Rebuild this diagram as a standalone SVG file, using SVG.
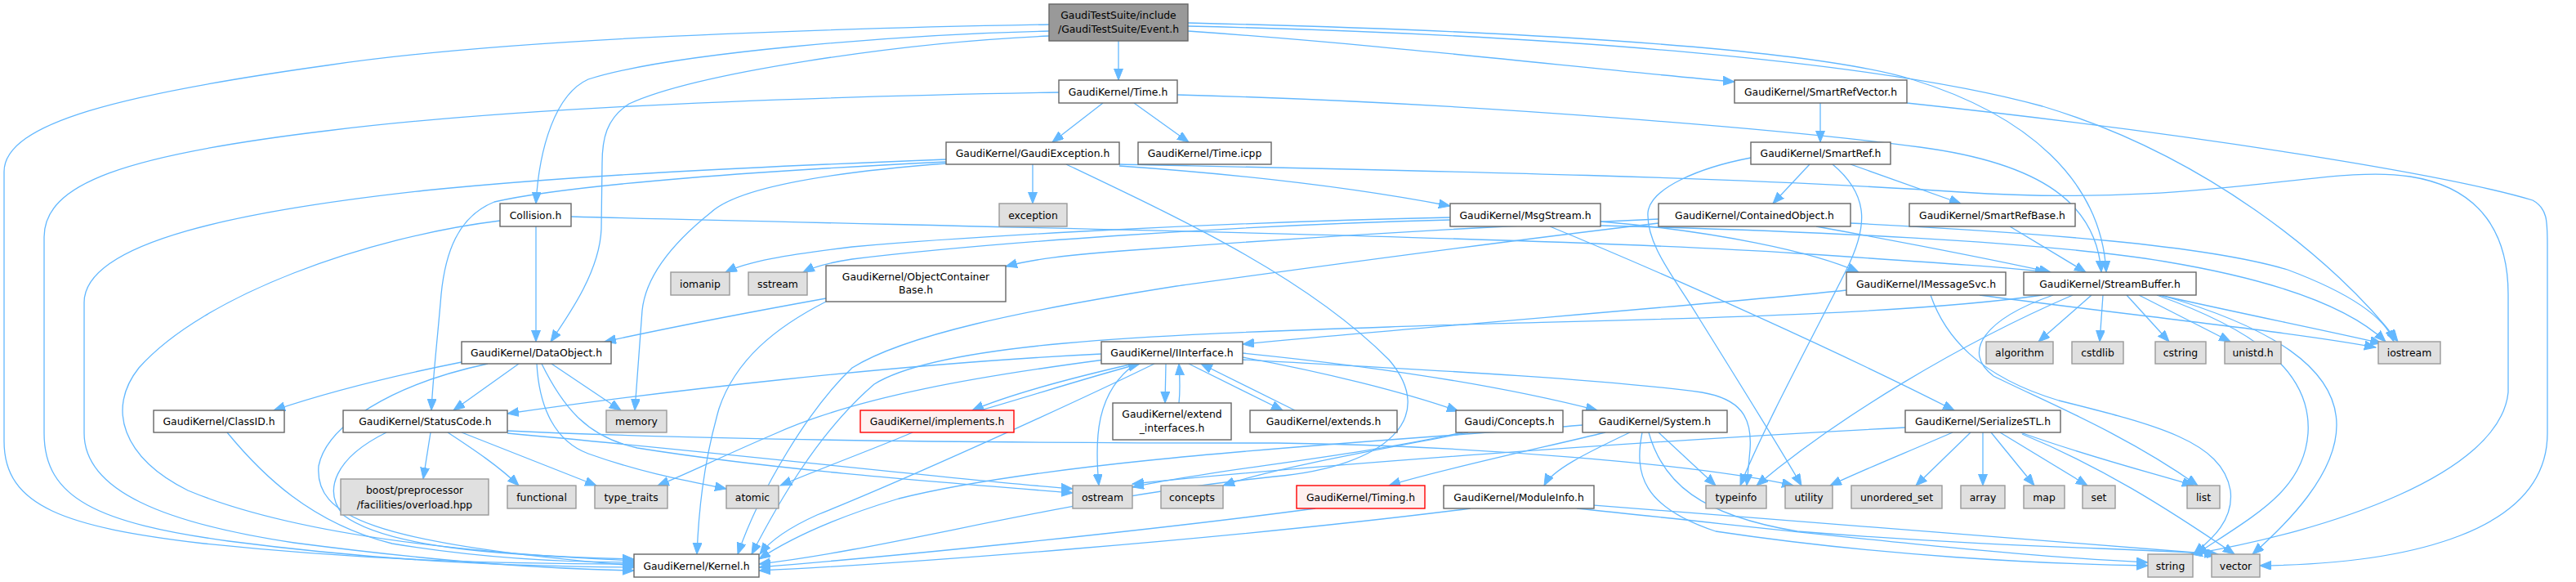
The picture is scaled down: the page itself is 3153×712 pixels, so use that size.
<svg xmlns="http://www.w3.org/2000/svg" width="3153" height="712" viewBox="0 0 3153 712">
<style>
.n rect{fill:#ffffff;stroke:#666666;stroke-width:1.4}
.g rect{fill:#E0E0E0;stroke:#999999;stroke-width:1.4}
.r rect{fill:#FFF0F0;stroke:#FF0000;stroke-width:1.4}
.root rect{fill:#999999;stroke:#666666;stroke-width:1.4}
text{font-family:"DejaVu Sans","Liberation Sans",sans-serif;font-size:12.4px;fill:#000;text-anchor:middle}
#edges path{fill:none;stroke:#63B8FF;stroke-width:1.3;marker-end:url(#a)}
</style>
<defs>
<marker id="a" markerUnits="userSpaceOnUse" markerWidth="15" markerHeight="12" refX="14" refY="5.5" orient="auto"><path d="M0,0 L14,5.5 L0,11 z" fill="#63B8FF" stroke="#63B8FF" stroke-width="1"/></marker>
</defs>
<rect x="0" y="0" width="3153" height="712" fill="#ffffff"/>
<g id="edges">
<path d="M1369,50 L1369,98"/>
<path d="M1284,30 C950,36 600,50 400,80 C150,115 5,150 5,210 L5,540 C5,620 80,645 250,665 C450,686 620,690 776,690"/>
<path d="M1284,38 C1100,42 820,65 720,97 C680,115 660,180 656,249"/>
<path d="M1284,44 C1100,52 850,90 770,127 C742,145 737,170 737,200 L736,280 C734,330 700,380 674,418"/>
<path d="M1454,38 C1700,55 1950,85 2123,100"/>
<path d="M1454,28 C1800,36 2200,55 2340,97 C2480,140 2572,220 2578,333"/>
<path d="M1454,32 C1900,42 2300,75 2500,130 C2700,190 2860,320 2935,418"/>
<path d="M1350,126 L1288,174"/>
<path d="M1388,126 L1455,174"/>
<path d="M1296,113 C900,120 600,135 400,160 C150,190 54,225 54,290 L54,530 C54,610 120,640 280,662 C480,688 640,693 776,694"/>
<path d="M1441,116 C1800,125 2200,160 2350,180 C2500,200 2566,250 2572,333"/>
<path d="M1264,201 L1264,249"/>
<path d="M1370,203 C1500,212 1650,228 1775,252"/>
<path d="M1158,195 C900,205 700,215 520,233 C300,257 103,295 103,370 L103,530 C103,600 200,640 360,664 C560,690 680,696 776,698"/>
<path d="M1158,198 C950,208 700,225 605,247 C560,265 545,310 540,360 C535,420 530,460 528,502"/>
<path d="M1158,200 C1000,212 900,232 870,260 C820,300 790,340 786,380 L777,502"/>
<path d="M1370,201 C1700,208 2100,215 2400,235 C2700,255 2850,200 2950,216 C3040,230 3070,290 3070,360 L3070,480 C3060,580 2850,650 2682,678"/>
<path d="M1305,201 C1450,270 1600,340 1700,440 C1760,510 1700,570 1560,583 C1300,610 1100,670 929,690"/>
<path d="M656,277 L656,418"/>
<path d="M612,270 C450,290 250,360 170,450 C130,500 150,560 230,600 C350,650 550,676 776,686"/>
<path d="M699,265 C1200,278 1900,290 2200,310 C2380,322 2470,328 2505,333"/>
<path d="M1775,266 C1500,272 1200,288 1043,302 C960,312 915,320 888,333"/>
<path d="M1775,269 C1500,276 1200,298 1043,317 C1010,322 995,327 983,333"/>
<path d="M1959,271 C2100,283 2220,308 2275,333"/>
<path d="M1897,277 C2050,340 2250,430 2392,502"/>
<path d="M1959,276 C2200,282 2500,295 2650,320 C2800,345 2880,380 2920,418"/>
<path d="M2030,268 C1800,278 1563,293 1400,305 C1300,312 1260,318 1231,326"/>
<path d="M2223,277 C2350,300 2450,320 2510,333"/>
<path d="M2030,273 C1800,300 1563,333 1440,350 C1250,380 1107,410 1043,450 C990,500 930,600 903,678"/>
<path d="M2265,273 C2500,285 2700,300 2800,330 C2880,360 2920,390 2930,418"/>
<path d="M1011,365 C900,385 800,405 740,418"/>
<path d="M1011,369 C950,400 900,440 880,500 C860,570 855,630 853,678"/>
<path d="M2228,126 L2228,174"/>
<path d="M2334,126 C2700,165 3000,215 3100,245 C3118,255 3118,270 3118,300 L3118,530 C3118,650 2950,690 2766,692"/>
<path d="M2215,201 L2170,249"/>
<path d="M2265,201 L2400,249"/>
<path d="M2243,201 C2290,240 2285,280 2260,330 C2220,410 2160,520 2130,594"/>
<path d="M2143,193 C2080,205 2020,230 2017,260 C2015,300 2050,340 2080,390 C2130,470 2180,550 2205,594"/>
<path d="M2460,277 L2553,333"/>
<path d="M2260,355 C2100,372 1800,395 1521,421"/>
<path d="M2423,361 C2600,385 2800,405 2908,425"/>
<path d="M2363,361 C2380,410 2420,460 2520,490 C2640,520 2720,540 2730,600 C2735,640 2700,665 2685,678"/>
<path d="M2560,361 L2495,418"/>
<path d="M2574,361 L2570,418"/>
<path d="M2603,361 L2655,418"/>
<path d="M2618,361 L2730,418"/>
<path d="M2643,361 C2750,385 2850,405 2915,420"/>
<path d="M2645,361 C2780,400 2860,450 2860,520 C2860,580 2800,640 2757,678"/>
<path d="M2640,361 C2750,400 2830,450 2825,530 C2820,600 2760,630 2688,678"/>
<path d="M2513,361 C2430,390 2400,430 2440,460 C2500,490 2600,530 2690,594"/>
<path d="M2537,361 C2400,420 2250,510 2150,594"/>
<path d="M2500,361 C2300,390 1900,392 1700,400 C1400,410 1150,420 1070,470 C1000,530 950,620 920,678"/>
<path d="M565,443 C480,460 400,480 335,502"/>
<path d="M635,445 L555,502"/>
<path d="M675,445 L760,502"/>
<path d="M597,445 C480,470 400,520 390,570 C385,630 450,665 776,692"/>
<path d="M657,445 C660,500 680,540 720,555 C790,580 850,590 889,598"/>
<path d="M663,445 C690,500 720,535 780,548 C950,575 1150,590 1313,603"/>
<path d="M1348,433 C1100,445 800,480 621,506"/>
<path d="M1352,440 C1200,460 1050,485 950,530 C880,560 840,580 805,594"/>
<path d="M1390,445 C1340,480 1340,540 1345,594"/>
<path d="M1413,445 C1300,500 1100,590 1000,630 C960,648 940,665 930,678"/>
<path d="M1387,445 C1300,465 1230,485 1190,502"/>
<path d="M1200,502 C1260,485 1330,462 1395,445"/>
<path d="M1427,445 L1426,493"/>
<path d="M1443,493 C1445,475 1444,460 1443,445"/>
<path d="M1455,445 L1570,502"/>
<path d="M1585,502 L1470,445"/>
<path d="M1521,437 C1620,455 1720,480 1785,503"/>
<path d="M1521,432 C1700,450 1850,475 1955,502"/>
<path d="M1521,440 C1700,450 1950,462 2083,480 C2130,488 2145,510 2142,550 L2138,594"/>
<path d="M1117,529 C1080,545 1000,575 955,594"/>
<path d="M1797,529 C1700,548 1560,572 1497,594"/>
<path d="M1790,529 C1650,560 1480,575 1386,596"/>
<path d="M1965,529 C1900,545 1760,575 1700,594"/>
<path d="M1995,529 C1940,555 1900,575 1890,594"/>
<path d="M2030,529 L2100,594"/>
<path d="M2010,529 C2000,580 2010,620 2100,650 C2300,680 2500,690 2629,692"/>
<path d="M2018,529 C2035,590 2080,630 2200,650 C2450,670 2600,670 2715,678"/>
<path d="M1937,520 C1700,540 1300,560 1100,610 C1000,640 950,670 929,684"/>
<path d="M1610,622 C1400,650 1100,680 929,694"/>
<path d="M1800,622 C1500,660 1100,690 929,698"/>
<path d="M1930,622 C2200,650 2450,680 2629,688"/>
<path d="M1950,618 C2250,640 2550,665 2712,678"/>
<path d="M2332,523 C2000,540 1600,570 1386,592"/>
<path d="M2390,529 C2330,555 2280,575 2240,594"/>
<path d="M2412,529 L2345,594"/>
<path d="M2427,529 L2427,594"/>
<path d="M2437,529 L2490,594"/>
<path d="M2448,529 L2555,594"/>
<path d="M2473,529 C2560,560 2640,580 2685,594"/>
<path d="M2475,531 C2570,570 2650,620 2735,678"/>
<path d="M527,529 L518,586"/>
<path d="M548,529 C580,550 610,570 635,594"/>
<path d="M565,529 L730,594"/>
<path d="M621,530 C900,555 1150,585 1313,598"/>
<path d="M621,527 C900,540 1300,542 1563,542 C1800,545 2080,568 2195,594"/>
<path d="M473,529 C410,560 395,600 420,630 C470,668 600,680 776,684"/>
<path d="M278,529 C320,580 380,640 480,665 C600,685 700,688 776,688"/>
</g>
<g id="n-event" class="root"><rect x="1284" y="5" width="170" height="45"/><text x="1369" y="22.5">GaudiTestSuite/include</text><text x="1369" y="39.5">/GaudiTestSuite/Event.h</text></g>
<g id="n-time" class="n"><rect x="1296" y="98" width="145" height="28"/><text x="1368.5" y="116.5">GaudiKernel/Time.h</text></g>
<g id="n-gaudiexception" class="n"><rect x="1158" y="174" width="212" height="27"/><text x="1264" y="192">GaudiKernel/GaudiException.h</text></g>
<g id="n-timeicpp" class="n"><rect x="1393" y="174" width="163" height="27"/><text x="1474.5" y="192">GaudiKernel/Time.icpp</text></g>
<g id="n-exception" class="g"><rect x="1223" y="249" width="83" height="28"/><text x="1264.5" y="267.5">exception</text></g>
<g id="n-collision" class="n"><rect x="612" y="249" width="87" height="28"/><text x="655.5" y="267.5">Collision.h</text></g>
<g id="n-msgstream" class="n"><rect x="1775" y="249" width="184" height="28"/><text x="1867" y="267.5">GaudiKernel/MsgStream.h</text></g>
<g id="n-containedobject" class="n"><rect x="2030" y="249" width="235" height="28"/><text x="2147.5" y="267.5">GaudiKernel/ContainedObject.h</text></g>
<g id="n-smartrefbase" class="n"><rect x="2337" y="249" width="203" height="28"/><text x="2438.5" y="267.5">GaudiKernel/SmartRefBase.h</text></g>
<g id="n-smartrefvector" class="n"><rect x="2123" y="98" width="211" height="28"/><text x="2228.5" y="116.5">GaudiKernel/SmartRefVector.h</text></g>
<g id="n-smartref" class="n"><rect x="2143" y="174" width="171" height="27"/><text x="2228.5" y="192">GaudiKernel/SmartRef.h</text></g>
<g id="n-iomanip" class="g"><rect x="821" y="333" width="72" height="28"/><text x="857" y="351.5">iomanip</text></g>
<g id="n-sstream" class="g"><rect x="916" y="333" width="72" height="28"/><text x="952" y="351.5">sstream</text></g>
<g id="n-objectcontainerbase" class="n"><rect x="1011" y="325" width="220" height="44"/><text x="1121" y="342.5">GaudiKernel/ObjectContainer</text><text x="1121" y="358.5">Base.h</text></g>
<g id="n-imessagesvc" class="n"><rect x="2260" y="333" width="195" height="28"/><text x="2357.5" y="351.5">GaudiKernel/IMessageSvc.h</text></g>
<g id="n-streambuffer" class="n"><rect x="2477" y="333" width="211" height="28"/><text x="2582.5" y="351.5">GaudiKernel/StreamBuffer.h</text></g>
<g id="n-dataobject" class="n"><rect x="565" y="418" width="183" height="27"/><text x="656.5" y="436">GaudiKernel/DataObject.h</text></g>
<g id="n-iinterface" class="n"><rect x="1348" y="418" width="173" height="27"/><text x="1434.5" y="436">GaudiKernel/IInterface.h</text></g>
<g id="n-algorithm" class="g"><rect x="2431" y="418" width="82" height="27"/><text x="2472" y="436">algorithm</text></g>
<g id="n-cstdlib" class="g"><rect x="2536" y="418" width="63" height="27"/><text x="2567.5" y="436">cstdlib</text></g>
<g id="n-cstring" class="g"><rect x="2638" y="418" width="62" height="27"/><text x="2669" y="436">cstring</text></g>
<g id="n-unistd" class="g"><rect x="2723" y="418" width="69" height="27"/><text x="2757.5" y="436">unistd.h</text></g>
<g id="n-iostream" class="g"><rect x="2911" y="418" width="76" height="27"/><text x="2949" y="436">iostream</text></g>
<g id="n-classid" class="n"><rect x="188" y="502" width="160" height="27"/><text x="268" y="520">GaudiKernel/ClassID.h</text></g>
<g id="n-statuscode" class="n"><rect x="420" y="502" width="201" height="27"/><text x="520.5" y="520">GaudiKernel/StatusCode.h</text></g>
<g id="n-memory" class="g"><rect x="742" y="502" width="74" height="27"/><text x="779" y="520">memory</text></g>
<g id="n-implements" class="r"><rect x="1053" y="502" width="188" height="27"/><text x="1147" y="520">GaudiKernel/implements.h</text></g>
<g id="n-extendinterfaces" class="n"><rect x="1362" y="493" width="145" height="45"/><text x="1434.5" y="510.5">GaudiKernel/extend</text><text x="1434.5" y="527.5">_interfaces.h</text></g>
<g id="n-extends" class="n"><rect x="1530" y="502" width="180" height="27"/><text x="1620" y="520">GaudiKernel/extends.h</text></g>
<g id="n-concepts-h" class="n"><rect x="1782" y="502" width="131" height="27"/><text x="1847.5" y="520">Gaudi/Concepts.h</text></g>
<g id="n-system" class="n"><rect x="1937" y="502" width="177" height="27"/><text x="2025.5" y="520">GaudiKernel/System.h</text></g>
<g id="n-serializestl" class="n"><rect x="2332" y="502" width="190" height="27"/><text x="2427" y="520">GaudiKernel/SerializeSTL.h</text></g>
<g id="n-overload" class="g"><rect x="417" y="586" width="181" height="44"/><text x="507.5" y="603.5">boost/preprocessor</text><text x="507.5" y="621.5">/facilities/overload.hpp</text></g>
<g id="n-functional" class="g"><rect x="621" y="594" width="84" height="28"/><text x="663" y="612.5">functional</text></g>
<g id="n-typetraits" class="g"><rect x="728" y="594" width="89" height="28"/><text x="772.5" y="612.5">type_traits</text></g>
<g id="n-atomic" class="g"><rect x="889" y="594" width="64" height="28"/><text x="921" y="612.5">atomic</text></g>
<g id="n-ostream" class="g"><rect x="1313" y="594" width="73" height="28"/><text x="1349.5" y="612.5">ostream</text></g>
<g id="n-concepts" class="g"><rect x="1421" y="594" width="76" height="28"/><text x="1459" y="612.5">concepts</text></g>
<g id="n-timing" class="r"><rect x="1587" y="594" width="157" height="28"/><text x="1665.5" y="612.5">GaudiKernel/Timing.h</text></g>
<g id="n-moduleinfo" class="n"><rect x="1767" y="594" width="184" height="28"/><text x="1859" y="612.5">GaudiKernel/ModuleInfo.h</text></g>
<g id="n-typeinfo" class="g"><rect x="2088" y="594" width="74" height="28"/><text x="2125" y="612.5">typeinfo</text></g>
<g id="n-utility" class="g"><rect x="2185" y="594" width="58" height="28"/><text x="2214" y="612.5">utility</text></g>
<g id="n-unorderedset" class="g"><rect x="2266" y="594" width="111" height="28"/><text x="2321.5" y="612.5">unordered_set</text></g>
<g id="n-array" class="g"><rect x="2400" y="594" width="54" height="28"/><text x="2427" y="612.5">array</text></g>
<g id="n-map" class="g"><rect x="2477" y="594" width="50" height="28"/><text x="2502" y="612.5">map</text></g>
<g id="n-set" class="g"><rect x="2549" y="594" width="40" height="28"/><text x="2569" y="612.5">set</text></g>
<g id="n-list" class="g"><rect x="2677" y="594" width="40" height="28"/><text x="2697" y="612.5">list</text></g>
<g id="n-kernel" class="n"><rect x="776" y="678" width="153" height="28"/><text x="852.5" y="696.5">GaudiKernel/Kernel.h</text></g>
<g id="n-string" class="g"><rect x="2629" y="678" width="55" height="28"/><text x="2656.5" y="696.5">string</text></g>
<g id="n-vector" class="g"><rect x="2707" y="678" width="59" height="28"/><text x="2736.5" y="696.5">vector</text></g>
</svg>
